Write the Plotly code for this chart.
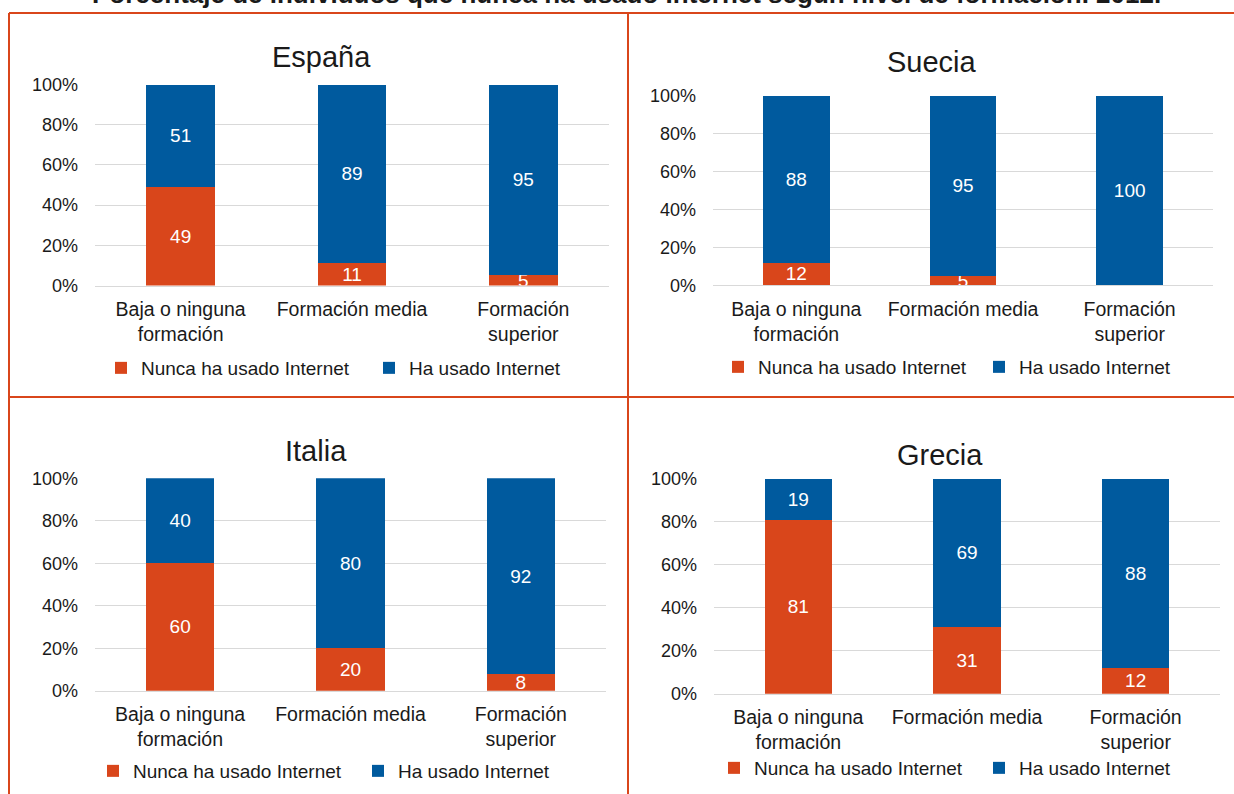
import plotly.graph_objects as go

W, H = 1234, 794
# the page is photographed with a fixed vertical mapping: shot_y = 10 + 0.9748 * fig_y
SHOT_OFF, SHOT_SCALE = 10.0, 0.9748

categories = ["Baja o ninguna<br>formación", "Formación media", "Formación<br>superior"]
series_names = ["Nunca ha usado Internet", "Ha usado Internet"]
countries = ["España", "Suecia", "Italia", "Grecia"]

espana_nunca = [49, 11, 5]
espana_ha = [51, 89, 95]
suecia_nunca = [12, 5, 0]
suecia_ha = [88, 95, 100]
italia_nunca = [60, 20, 8]
italia_ha = [40, 80, 92]
grecia_nunca = [81, 31, 12]
grecia_ha = [19, 69, 88]

y_ticks = [0, 20, 40, 60, 80, 100]
y_tick_labels = ["0%", "20%", "40%", "60%", "80%", "100%"]
main_title = "Porcentaje de individuos que nunca ha usado Internet según nivel de formación. 2012."

ORANGE = "#D9461B"
BLUE = "#005A9E"
GRID = "#D9D9D9"
FONT = "Liberation Sans, Arial, sans-serif"
TXT = "#1a1a1a"

data = [
    (espana_nunca, espana_ha),
    (suecia_nunca, suecia_ha),
    (italia_nunca, italia_ha),
    (grecia_nunca, grecia_ha),
]

# panel layout in reference pixels: x0, x1, ytop, ybottom
panels = [
    (95, 609, 84.5, 285.5),
    (713, 1213, 96, 285.3),
    (95, 606, 478.3, 690.7),
    (714, 1220, 478.7, 693.7),
]
titles_pos = [(321, 57), (932, 62), (316, 451), (940, 455)]
legend_items = [
    ((116, 384), 368),
    ((733, 994), 367),
    ((108, 373), 771),
    ((729, 994), 768),
]

def px(x):
    return x / W

def py(y):
    fy = (y - SHOT_OFF) / SHOT_SCALE
    return 1 - fy / H

fig = go.Figure()
layout_updates = {}
annotations = []
leg_idx = 0

for i, (country, (nunca, ha)) in enumerate(zip(countries, data)):
    n = "" if i == 0 else str(i + 1)
    xa, ya = "x" + n, "y" + n
    (lx1, lx2), ly = legend_items[i]
    for k, (vals, color, lx) in enumerate([(nunca, ORANGE, lx1), (ha, BLUE, lx2)]):
        leg_idx += 1
        leg = "legend" if leg_idx == 1 else "legend" + str(leg_idx)
        fig.add_trace(go.Bar(
            x=categories, y=vals, name=series_names[k], marker_color=color,
            marker_line_width=0, showlegend=True,
            text=[str(v) if v else "" for v in vals], textposition="inside",
            insidetextanchor="middle", textangle=0,
            textfont=dict(color="white", size=19, family=FONT),
            xaxis=xa, yaxis=ya, legend=leg, hoverinfo="skip",
        ))
        layout_updates[leg] = dict(
            orientation="h", x=px(lx - 15), y=py(ly), xanchor="left", yanchor="middle",
            font=dict(size=19, color=TXT, family=FONT), bgcolor="rgba(0,0,0,0)",
            itemclick=False, itemdoubleclick=False,
        )
    x0, x1, yt, yb = panels[i]
    layout_updates["xaxis" + n] = dict(
        domain=[px(x0), px(x1)], anchor=ya, showgrid=False,
        showline=True, linecolor=GRID, linewidth=1, ticks="",
        tickfont=dict(size=19.5, color=TXT, family=FONT),
        ticklabelstandoff=6, fixedrange=True,
    )
    layout_updates["yaxis" + n] = dict(
        domain=[py(yb), py(yt)], anchor=xa, range=[0, 100],
        tickmode="array", tickvals=y_ticks, ticktext=y_tick_labels,
        showgrid=True, gridcolor=GRID,
        gridwidth=1, zeroline=False, showline=False, ticks="",
        tickfont=dict(size=18, color=TXT, family=FONT),
        ticklabelstandoff=16, fixedrange=True,
    )
    tx, ty = titles_pos[i]
    annotations.append(dict(
        text=country, x=px(tx), y=py(ty), xref="paper", yref="paper",
        xanchor="center", yanchor="middle", showarrow=False,
        font=dict(size=29, color=TXT, family=FONT),
    ))

annotations.append(dict(
    text="<b>" + main_title + "</b>", x=px(626), y=1, xref="paper", yref="paper",
    xanchor="center", yanchor="bottom", showarrow=False, borderpad=0,
    font=dict(size=26, color=TXT, family=FONT),
))

line = dict(color=ORANGE, width=2)
y_low = 1 - 810 / H
shapes = [
    dict(type="line", xref="paper", yref="paper", x0=px(9), x1=1, y0=py(13), y1=py(13), line=line),
    dict(type="line", xref="paper", yref="paper", x0=px(9), x1=1, y0=py(397), y1=py(397), line=line),
    dict(type="line", xref="paper", yref="paper", x0=px(9), x1=px(9), y0=py(13), y1=y_low, line=line),
    dict(type="line", xref="paper", yref="paper", x0=px(628), x1=px(628), y0=py(13), y1=y_low, line=line),
]

fig.update_layout(
    width=W, height=H, autosize=False,
    margin=dict(l=0, r=0, t=0, b=0),
    paper_bgcolor="white", plot_bgcolor="white",
    barmode="stack", bargap=0.6, showlegend=True,
    uniformtext=dict(mode="show", minsize=18),
    font=dict(family=FONT, color=TXT),
    annotations=annotations, shapes=shapes,
    **layout_updates,
)

fig.write_html(
    "out.html",
    config={"displayModeBar": False},
    post_script="document.body.style.margin='0';document.body.style.overflow='hidden';",
)
